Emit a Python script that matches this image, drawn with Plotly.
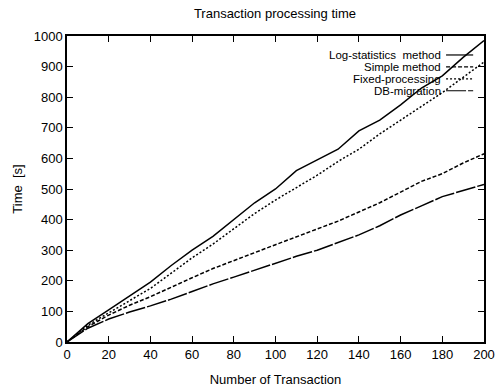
import plotly.graph_objects as go

x_vals = [0, 10, 20, 30, 40, 50, 60, 70, 80, 90, 100, 110, 120, 130, 140, 150, 160, 170, 180, 190, 200]

log_statistics = [0, 60, 105, 150, 196, 250, 300, 345, 400, 455, 500, 560, 595, 630, 690, 725, 775, 830, 870, 930, 985]
simple_method = [0, 50, 88, 120, 148, 180, 210, 240, 265, 292, 318, 343, 368, 395, 425, 455, 490, 525, 550, 585, 615]
fixed_processing = [0, 55, 95, 135, 175, 225, 275, 320, 370, 420, 464, 505, 545, 590, 630, 680, 725, 770, 815, 865, 915]
db_migration = [0, 45, 75, 98, 118, 140, 165, 190, 212, 235, 258, 280, 300, 325, 350, 380, 415, 445, 475, 495, 515]

series_names = ["Log-statistics  method", "Simple method", "Fixed-processing", "DB-migration"]
series_data = [log_statistics, simple_method, fixed_processing, db_migration]
series_dash = ["solid", "4px,2px", "2px,2px", "20px,2px"]

x_ticks = [0, 20, 40, 60, 80, 100, 120, 140, 160, 180, 200]
y_ticks = [0, 100, 200, 300, 400, 500, 600, 700, 800, 900, 1000]

FONT = "Liberation Sans, Arial, sans-serif"

fig = go.Figure()
for name, ys, dash in zip(series_names, series_data, series_dash):
    fig.add_trace(go.Scatter(x=x_vals, y=ys, mode="lines", name=name,
                             line=dict(color="black", width=1.5, dash=dash),
                             showlegend=False, hoverinfo="skip"))

# custom legend: text right-aligned, sample to the right
row_y = [0.938, 0.899, 0.860, 0.821]
for name, dash, yy in zip(series_names, series_dash, row_y):
    fig.add_annotation(x=0.899, y=yy, xref="paper", yref="paper", text=name,
                       showarrow=False, xanchor="right", yanchor="middle",
                       borderpad=0,
                       font=dict(family=FONT, size=11.5, color="black"))
    fig.add_shape(type="line", xref="paper", yref="paper",
                  x0=0.909, x1=0.974, y0=yy, y1=yy,
                  line=dict(color="black", width=1.2, dash=dash))

axis_common = dict(showline=True, linecolor="black", linewidth=1.5, mirror="ticks",
                   ticks="inside", ticklen=6, tickcolor="black", tickwidth=1.2,
                   showgrid=False, zeroline=False, automargin=False,
                   tickfont=dict(family=FONT, size=13, color="black"))

fig.update_xaxes(range=[0, 200], tickvals=x_ticks,
                 title=dict(text="Number of Transaction", standoff=14,
                            font=dict(family=FONT, size=13, color="black")),
                 **axis_common)
fig.update_yaxes(range=[0, 1000], tickvals=y_ticks,
                 title=dict(text="Time  [s]", standoff=8,
                            font=dict(family=FONT, size=13, color="black")),
                 **axis_common)

fig.update_layout(
    width=499, height=390,
    margin=dict(l=67, r=15, t=36, b=48, autoexpand=False),
    paper_bgcolor="white", plot_bgcolor="white",
    title=dict(text="Transaction processing time", x=0.551, xanchor="center",
               y=0.966, yanchor="middle", yref="container", automargin=False,
               font=dict(family=FONT, size=13, color="black")),
)

fig.write_html("out.html", config={"displayModeBar": False},
               post_script="document.body.style.margin='0';document.body.style.padding='0';document.body.style.overflow='hidden';")
